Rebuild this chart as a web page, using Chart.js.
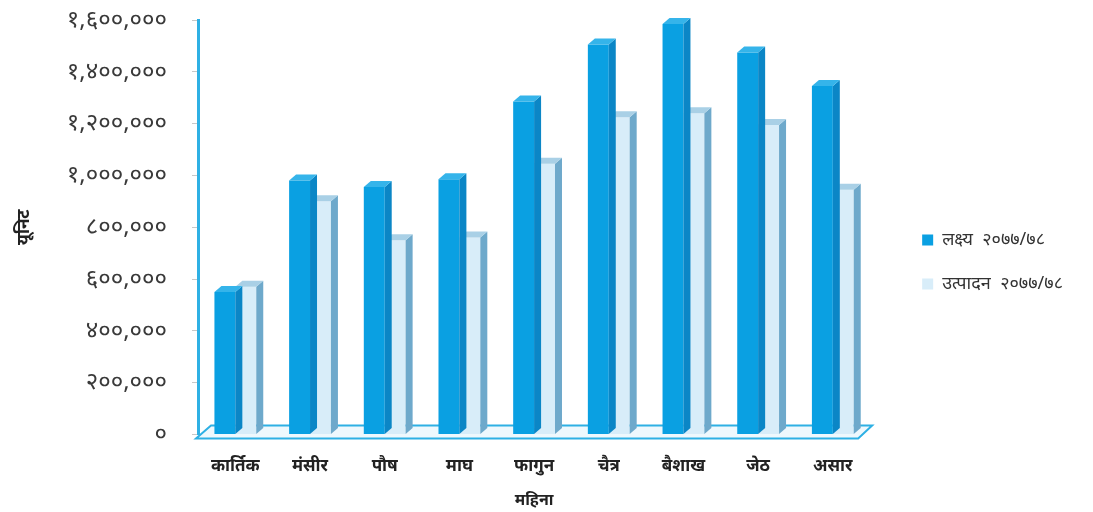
<!DOCTYPE html>
<html>
<head>
<meta charset="utf-8">
<script src="https://cdn.jsdelivr.net/npm/chart.js@4.4.1/dist/chart.umd.min.js"></script>
<style>
  html, body { margin: 0; padding: 0; background: #fff; }
  #wrap { width: 1093px; height: 512px; }
</style>
</head>
<body>
<div id="wrap"><canvas id="chart" width="1093" height="512"></canvas></div>
<script>
// mahina (categories)
const months = ['कार्तिक', 'मंसीर', 'पौष', 'माघ', 'फागुन', 'चैत्र', 'बैशाख', 'जेठ', 'असार'];
// lakshya 2077/78
const targetUnits = [550000, 980000, 955000, 985000, 1285000, 1505000, 1585000, 1475000, 1345000];
// utpadan 2077/78
const productionUnits = [570000, 900000, 750000, 760000, 1045000, 1225000, 1240000, 1195000, 945000];
const seriesNames = ['लक्ष्य  २०७७/७८', 'उत्पादन  २०७७/७८'];

const devDigits = ['०', '१', '२', '३', '४', '५', '६', '७', '८', '९'];
function toDev(n) {
  return n.toLocaleString('en-US').replace(/[0-9]/g, d => devDigits[+d]);
}

const DEPTH_X = 7, DEPTH_Y = 6;
const sideColors = ['#0b86c6', '#6ea9cb'];
const topColors = ['#35b4ea', '#a9d0e6'];

// floor + 3d faces of bars
const fake3d = {
  id: 'fake3d',
  beforeDatasetsDraw(chart) {
    const { ctx, chartArea } = chart;
    const y0 = chart.scales.y.getPixelForValue(0);
    ctx.save();
    ctx.beginPath();
    ctx.moveTo(chartArea.left - 2, y0 + 4);
    ctx.lineTo(chartArea.right - 12, y0 + 4);
    ctx.lineTo(chartArea.right + 2, y0 - 9);
    ctx.lineTo(chartArea.left + 13, y0 - 9);
    ctx.closePath();
    ctx.fillStyle = '#eef8fd';
    ctx.fill();
    ctx.strokeStyle = '#2eb0e4';
    ctx.lineWidth = 2;
    ctx.stroke();
    ctx.restore();
  },
  afterDatasetDraw(chart, args) {
    const { ctx } = chart;
    const i = args.index;
    const meta = chart.getDatasetMeta(i);
    ctx.save();
    meta.data.forEach(bar => {
      const l = bar.x - bar.width / 2, r = bar.x + bar.width / 2;
      const t = bar.y, b = bar.base;
      // cote
      ctx.beginPath();
      ctx.moveTo(r, t);
      ctx.lineTo(r + DEPTH_X, t - DEPTH_Y);
      ctx.lineTo(r + DEPTH_X, b - DEPTH_Y);
      ctx.lineTo(r, b);
      ctx.closePath();
      ctx.fillStyle = sideColors[i];
      ctx.fill();
      // dessus
      ctx.beginPath();
      ctx.moveTo(l, t);
      ctx.lineTo(l + DEPTH_X, t - DEPTH_Y);
      ctx.lineTo(r + DEPTH_X, t - DEPTH_Y);
      ctx.lineTo(r, t);
      ctx.closePath();
      ctx.fillStyle = topColors[i];
      ctx.fill();
    });
    ctx.restore();
  }
};

const ctx = document.getElementById('chart').getContext('2d');
const chart = new Chart(ctx, {
  type: 'bar',
  data: {
    labels: months,
    datasets: [
      { label: seriesNames[0], data: targetUnits, backgroundColor: '#0aa0e2', borderWidth: 0 },
      { label: seriesNames[1], data: productionUnits, backgroundColor: '#d8edf9', borderWidth: 0 }
    ]
  },
  options: {
    responsive: false,
    animation: false,
    categoryPercentage: 0.56,
    barPercentage: 1.0,
    layout: { padding: { top: 14, right: 20, left: 10, bottom: 2 } },
    plugins: {
      tooltip: { enabled: false },
      legend: {
        position: 'right',
        align: 'center',
        labels: {
          boxWidth: 11, boxHeight: 11, padding: 26,
          color: '#333',
          font: { family: 'Noto Sans', size: 18 }
        }
      }
    },
    scales: {
      x: {
        grid: { display: false },
        border: { display: false },
        ticks: { color: '#222', padding: 14, font: { family: 'Noto Sans', size: 17, weight: 'bold' } },
        title: { display: true, text: 'महिना', color: '#222', padding: 0, font: { family: 'Noto Sans', size: 16, weight: 'bold' } }
      },
      y: {
        min: 0, max: 1600000,
        // largeur fixe + haut du graph a y=20
        afterFit(scale) { scale.width = 188; scale.paddingTop = 20; },
        ticks: {
          stepSize: 200000, color: '#3a3a3a', padding: 25,
          font: { family: 'Noto Sans', size: 24, lineHeight: 1 },
          callback: v => toDev(v)
        },
        grid: { drawOnChartArea: false, drawTicks: true, tickLength: 6, color: '#c8c8c8' },
        border: { color: '#2eb0e4', width: 3 },
        title: { display: true, text: 'यूनिट', color: '#222', padding: { bottom: 0 }, font: { family: 'Noto Sans', size: 17, weight: 'bold' } }
      },
      // espace vide entre le graph et la legende
      gap: {
        position: 'right',
        display: true,
        afterFit(scale) { scale.width = 26; },
        grid: { display: false },
        border: { display: false },
        ticks: { display: false }
      }
    }
  },
  plugins: [fake3d]
});
</script>
</body>
</html>
